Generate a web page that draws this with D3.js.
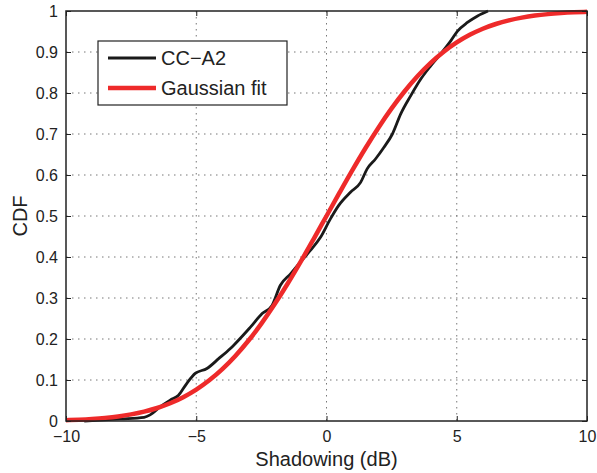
<!doctype html>
<html>
<head>
    <script src="https://d3js.org/d3.v7.min.js"></script>
    <style>
        body { margin: 0; background: #fff; }
        text { font-family: "Liberation Sans", Arial, sans-serif; fill: #222; }
        .grid line { stroke: #777; stroke-width: 1; stroke-dasharray: 1.5,4.5; }
    </style>
</head>
<body>
<svg width="597" height="473"></svg>
<script>
    // measured CDF (CC-A2)
    var ccX = [-9.3, -8.7, -7.9, -7.0, -6.77, -6.38, -6.0, -5.68, -5.36, -5.04, -4.59, -4.14, -3.69, -3.56, -2.92, -2.47, -2.09, -1.77, -1.38, -1.0,
               -0.62, -0.23, 0.15, 0.47, 0.92, 1.31, 1.56, 1.88, 2.2, 2.53, 2.85, 3.23, 3.62, 4.0, 4.38, 4.77, 5.03, 5.41, 5.8, 6.2];
    var ccY = [0, 0.002, 0.005, 0.009, 0.015, 0.035, 0.051, 0.063, 0.092, 0.116, 0.128, 0.152, 0.177, 0.185, 0.229, 0.262, 0.282, 0.331, 0.359, 0.388,
               0.416, 0.448, 0.493, 0.526, 0.558, 0.582, 0.615, 0.639, 0.667, 0.700, 0.749, 0.793, 0.834, 0.866, 0.895, 0.927, 0.951, 0.972, 0.988, 1.0];

    // gaussian fit
    var fitX = [-10, -9.5, -9, -8.5, -8, -7.5, -7, -6.5, -6, -5.5, -5, -4.5, -4, -3.5, -3, -2.5, -2, -1.5, -1, -0.5,
                0, 0.5, 1, 1.5, 2, 2.5, 3, 3.5, 4, 4.5, 5, 5.5, 6, 6.5, 7, 7.5, 8, 8.5, 9, 9.5, 10];
    var fitY = [0.0021, 0.0033, 0.0051, 0.0076, 0.0111, 0.0161, 0.0228, 0.0317, 0.0432, 0.0581, 0.0766, 0.0993, 0.1265, 0.1587, 0.1957, 0.2376, 0.2839, 0.3341, 0.3875, 0.4432,
                0.5, 0.5568, 0.6125, 0.6659, 0.7161, 0.7624, 0.8043, 0.8413, 0.8735, 0.9007, 0.9234, 0.9419, 0.9568, 0.9683, 0.9772, 0.9839, 0.9889, 0.9924, 0.9949, 0.9967, 0.9979];

    var xTicks = [-10, -5, 0, 5, 10];
    var yTicks = [0, 0.1, 0.2, 0.3, 0.4, 0.5, 0.6, 0.7, 0.8, 0.9, 1];
    var seriesNames = ["CC\u2212A2", "Gaussian fit"];
    var seriesColors = ["#1a1a1a", "#ee2a2a"];

    var svg = d3.select("svg");
    var pl = 66, pr = 587, pt = 11, pb = 421;

    var x = d3.scaleLinear().domain([-10, 10]).range([pl, pr]);
    var y = d3.scaleLinear().domain([0, 1]).range([pb, pt]);

    // grid
    var grid = svg.append("g").attr("class", "grid");
    grid.selectAll(".vx").data(xTicks.slice(1, -1)).enter().append("line")
        .attr("x1", d => x(d)).attr("x2", d => x(d)).attr("y1", pt).attr("y2", pb);
    grid.selectAll(".hy").data(yTicks.slice(1, -1)).enter().append("line")
        .attr("x1", pl).attr("x2", pr).attr("y1", d => y(d)).attr("y2", d => y(d));

    var line = d3.line().curve(d3.curveMonotoneX);
    var ccPts = ccX.map((v, i) => [x(v), y(ccY[i])]);
    var fitPts = fitX.map((v, i) => [x(v), y(fitY[i])]);

    svg.append("path").attr("d", line(ccPts)).attr("fill", "none")
        .attr("stroke", seriesColors[0]).attr("stroke-width", 2.8).attr("stroke-linejoin", "round");
    svg.append("path").attr("d", line(fitPts)).attr("fill", "none")
        .attr("stroke", seriesColors[1]).attr("stroke-width", 4.5).attr("stroke-linejoin", "round");

    // axes (inward ticks, box on)
    var tl = 5;
    var bx = svg.append("g");
    bx.append("g").attr("transform", "translate(0," + pb + ")")
        .call(d3.axisBottom(x).tickValues(xTicks).tickSizeInner(-tl).tickSizeOuter(0).tickPadding(10)
            .tickFormat(d => d < 0 ? "\u2212" + Math.abs(d) : d));
    bx.append("g").attr("transform", "translate(0," + pt + ")")
        .call(d3.axisTop(x).tickValues(xTicks).tickSizeInner(-tl).tickSizeOuter(0).tickFormat(""));
    bx.append("g").attr("transform", "translate(" + pl + ",0)")
        .call(d3.axisLeft(y).tickValues(yTicks).tickSizeInner(-tl).tickSizeOuter(0).tickPadding(8)
            .tickFormat(d3.format("~g")));
    bx.append("g").attr("transform", "translate(" + pr + ",0)")
        .call(d3.axisRight(y).tickValues(yTicks).tickSizeInner(-tl).tickSizeOuter(0).tickFormat(""));
    bx.selectAll(".domain").remove();
    bx.selectAll(".tick line").attr("stroke", "#222").attr("stroke-width", 1);
    bx.selectAll(".tick text").attr("font-size", "16px").style("fill", "#222");

    svg.append("rect").attr("x", pl).attr("y", pt).attr("width", pr - pl).attr("height", pb - pt)
        .attr("fill", "none").attr("stroke", "#222").attr("stroke-width", 1.5);

    // labels
    svg.append("text").attr("x", x(0)).attr("y", 466).attr("text-anchor", "middle")
        .attr("font-size", "20px").text("Shadowing (dB)");
    svg.append("text").attr("transform", "translate(27," + y(0.5) + ") rotate(-90)")
        .attr("text-anchor", "middle").attr("font-size", "20px").text("CDF");

    // legend
    var lg = svg.append("g");
    lg.append("rect").attr("x", 98).attr("y", 41).attr("width", 189).attr("height", 64)
        .attr("fill", "#fff").attr("stroke", "#222").attr("stroke-width", 1.2);
    seriesNames.forEach(function (name, i) {
        var yy = 58 + i * 30;
        lg.append("line").attr("x1", 108).attr("x2", 156).attr("y1", yy).attr("y2", yy)
            .attr("stroke", seriesColors[i]).attr("stroke-width", i === 0 ? 2.8 : 4.5);
        lg.append("text").attr("x", 161).attr("y", yy + 7).attr("font-size", "20px").text(name);
    });
</script>
</body>
</html>
